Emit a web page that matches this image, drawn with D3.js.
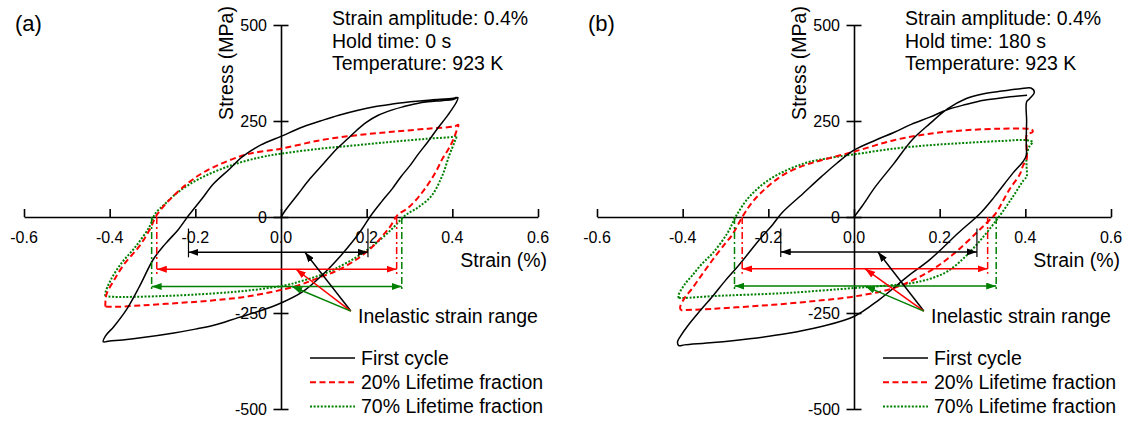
<!DOCTYPE html>
<html>
<head>
<meta charset="utf-8">
<script src="https://cdn.jsdelivr.net/npm/d3@7"></script>
<style>
  body { margin: 0; background: #fff; }
  text { font-family: Arial, "Liberation Sans", sans-serif; fill: #000; }
</style>
</head>
<body>
<svg id="chart" width="1135" height="426"></svg>
<script>
// ---- data (strain %, stress MPa) ----
const xTicks = [-0.6, -0.4, -0.2, 0, 0.2, 0.4, 0.6];
const yTicks = [500, 250, 0, -250, -500];
const seriesNames = ["First cycle", "20% Lifetime fraction", "70% Lifetime fraction"];
const panelLabels = ["(a)", "(b)"];
const holdTimes = ["0 s", "180 s"];

// panel (a): hold time 0 s
const firstCycleA = [[0,0],[0.01,17],[0.04,60],[0.068,100],[0.1,140],[0.127,174],[0.155,203],[0.177,226],[0.2,247],[0.227,265],[0.26,279],[0.285,287],[0.315,295],[0.343,300],[0.375,303],[0.402,306],[0.413,311],
  [0.41,300],[0.39,266],[0.365,230],[0.343,196],[0.32,163],[0.302,135],[0.28,105],[0.26,74],[0.235,40],[0.21,4],[0.19,-30],[0.17,-60],[0.14,-100],[0.1,-147],[0.05,-195],[0,-224],[-0.05,-245],[-0.1,-262],[-0.157,-282],[-0.2,-292],[-0.25,-302],[-0.323,-314],[-0.37,-320],[-0.4,-323],[-0.415,-325],
  [-0.41,-310],[-0.39,-285],[-0.36,-240],[-0.33,-180],[-0.298,-110],[-0.27,-70],[-0.24,-33],[-0.215,5],[-0.185,47],[-0.157,87],[-0.12,125],[-0.09,157],[-0.048,187],[0,210],[0.052,235],[0.1,253],[0.135,265],[0.18,278],[0.218,287],[0.26,294],[0.302,300],[0.35,305],[0.402,309],[0.41,312]];
const frac20A = [[-0.41,-233],[-0.41,-222],[-0.407,-200],[-0.39,-165],[-0.365,-121],[-0.332,-78],[-0.307,-34],[-0.29,5],[-0.26,45],[-0.223,83],[-0.19,110],[-0.157,130],[-0.115,150],[-0.073,165],[0,178],[0.093,200],[0.177,213],[0.26,222],[0.343,230],[0.405,236],[0.414,240],
  [0.41,225],[0.4,196],[0.39,175],[0.377,152],[0.365,125],[0.352,100],[0.335,72],[0.318,48],[0.295,22],[0.272,5],[0.255,-25],[0.24,-45],[0.218,-73],[0.177,-110],[0.13,-140],[0.093,-156],[0.035,-180],[-0.073,-206],[-0.157,-217],[-0.24,-224],[-0.323,-230],[-0.39,-234],[-0.41,-233]];
const frac70A = [[-0.41,-206],[-0.41,-198],[-0.398,-165],[-0.373,-121],[-0.34,-78],[-0.307,-25],[-0.294,8],[-0.27,35],[-0.24,65],[-0.19,100],[-0.115,135],[-0.05,155],[0,165],[0.093,178],[0.177,187],[0.26,196],[0.343,204],[0.402,209],[0.41,212],
  [0.405,195],[0.393,161],[0.377,109],[0.352,56],[0.32,25],[0.29,4],[0.26,-30],[0.22,-70],[0.177,-104],[0.13,-133],[0.093,-151],[0.05,-166],[0.01,-178],[-0.073,-191],[-0.157,-199],[-0.28,-206],[-0.39,-208],[-0.41,-206]];

// panel (b): hold time 180 s
const firstCycleB = [[0,0],[0.02,30],[0.05,79],[0.093,139],[0.135,200],[0.177,243],[0.219,282],[0.261,308],[0.303,321],[0.345,328],[0.388,334],[0.413,336],[0.421,325],[0.41,308],[0.403,300],[0.403,250],[0.402,200],[0.402,160],
  [0.395,145],[0.37,113],[0.328,53],[0.295,10],[0.244,-41],[0.177,-111],[0.126,-154],[0.059,-215],[0,-259],[-0.076,-285],[-0.16,-304],[-0.244,-317],[-0.329,-327],[-0.396,-333],[-0.409,-335],
  [-0.412,-325],[-0.405,-310],[-0.388,-283],[-0.36,-245],[-0.329,-205],[-0.3,-165],[-0.27,-127],[-0.22,-58],[-0.19,-20],[-0.168,11],[-0.12,60],[-0.076,105],[-0.04,140],[0,174],[0.05,200],[0.093,220],[0.135,242],[0.177,260],[0.219,280],[0.261,293],[0.303,304],[0.35,311],[0.404,317]];
const frac20B = [[-0.404,-243],[-0.406,-235],[-0.395,-210],[-0.379,-188],[-0.355,-150],[-0.329,-110],[-0.3,-68],[-0.286,-49],[-0.258,5],[-0.24,35],[-0.219,61],[-0.19,90],[-0.16,113],[-0.12,133],[-0.076,148],[0,170],[0.093,200],[0.177,217],[0.261,226],[0.345,230],[0.404,230],[0.415,228],[0.417,221],[0.404,215],[0.403,180],[0.403,150],
  [0.395,135],[0.388,113],[0.362,70],[0.33,8],[0.31,-15],[0.286,-41],[0.236,-93],[0.177,-141],[0.093,-185],[0,-207],[-0.076,-217],[-0.16,-226],[-0.244,-233],[-0.329,-239],[-0.404,-243]];
const frac70B = [[-0.409,-211],[-0.41,-205],[-0.395,-175],[-0.379,-154],[-0.355,-122],[-0.329,-93],[-0.295,-41],[-0.274,5],[-0.244,53],[-0.194,100],[-0.118,139],[-0.05,155],[0,163],[0.093,178],[0.177,187],[0.261,193],[0.345,198],[0.404,200],[0.417,195],[0.41,185],[0.403,160],[0.403,130],[0.403,105],
  [0.396,96],[0.371,53],[0.34,3],[0.303,-50],[0.261,-102],[0.219,-141],[0.18,-160],[0.135,-172],[0.06,-180],[0,-185],[-0.16,-198],[-0.329,-206],[-0.396,-211],[-0.409,-211]];

// inelastic strain range markers: [left strain, right strain], stress level of arrow
const rangeEndsA = [[-0.216, 0.203], [-0.29, 0.27], [-0.302, 0.282]];
const rangeLevelsA = [-92, -136, -181];
const pointerToA = [[0.056, -92], [0.035, -136], [0.026, -181]];
const rangeEndsB = [[-0.171, 0.287], [-0.261, 0.312], [-0.279, 0.332]];
const rangeLevelsB = [-91, -135, -180];
const pointerToB = [[0.056, -91], [0.026, -135], [0.026, -180]];
const pointerFrom = [0.163, -245];

// ---- drawing ----
const colors = ["#000000", "#ff0000", "#008000"];
const dashes = [null, "6,3.5", "2,1.6"];
const widths = [1.5, 2, 2];

const svg = d3.select("#chart");

let defs = svg.append("defs");
colors.forEach((c, i) => {
  defs.append("marker")
    .attr("id", "arr" + i)
    .attr("markerUnits", "userSpaceOnUse")
    .attr("markerWidth", 10).attr("markerHeight", 7)
    .attr("refX", 10).attr("refY", 3.5)
    .attr("orient", "auto-start-reverse")
    .append("path").attr("d", "M0,0 L10,3.5 L0,7 Z").attr("fill", c);
});

let panels = [
  { left: 24, right: 538, loops: [firstCycleA, frac20A, frac70A], ends: rangeEndsA, levels: rangeLevelsA, to: pointerToA },
  { left: 597, right: 1111, loops: [firstCycleB, frac20B, frac70B], ends: rangeEndsB, levels: rangeLevelsB, to: pointerToB }
];

// plain hyphen for negatives, like the original figure
let fmt = d => d3.format(".1f")(d).replace("\u2212", "-");

panels.forEach((p, pi) => {
  let x = d3.scaleLinear().domain([-0.6, 0.6]).range([p.left, p.right]);
  let y = d3.scaleLinear().domain([-500, 500]).range([409, 25]);
  let x0 = x(0), y0 = y(0);
  let g = svg.append("g");

  // axes crossing at the origin
  let xAxis = d3.axisTop(x).tickValues(xTicks).tickSizeInner(8).tickSizeOuter(0).tickFormat("");
  let gx = g.append("g").attr("transform", "translate(0," + y0 + ")").call(xAxis);
  gx.selectAll("path, line").attr("stroke", "#000").attr("stroke-width", 1.6);

  let yAxis = d3.axisLeft(y).tickValues(yTicks).tickSizeInner(0).tickSizeOuter(0).tickFormat("");
  let gy = g.append("g").attr("transform", "translate(" + x0 + ",0)").call(yAxis);
  gy.select("path").attr("stroke", "#000").attr("stroke-width", 1.6);
  gy.selectAll(".tick line").attr("x1", -7.5).attr("x2", 7.5).attr("stroke", "#000").attr("stroke-width", 1.6);

  g.selectAll(".xlab").data(xTicks).join("text")
    .attr("x", d => x(d)).attr("y", y0 + 26)
    .attr("text-anchor", "middle").style("font-size", "16px")
    .text(fmt);
  g.selectAll(".ylab").data(yTicks).join("text")
    .attr("x", x0 - 14).attr("y", d => y(d)).attr("dy", "0.35em")
    .attr("text-anchor", "end").style("font-size", "16px")
    .text(d => d);

  // axis titles
  g.append("text").attr("x", p.right + 9).attr("y", y0 + 50)
    .attr("text-anchor", "end").style("font-size", "19.5px").text("Strain (%)");
  g.append("text")
    .attr("transform", "translate(" + (x0 - 48.5) + ",63) rotate(-90)")
    .attr("text-anchor", "middle").style("font-size", "19.5px").text("Stress (MPa)");

  // panel letter and test conditions
  g.append("text").attr("x", p.left - 9).attr("y", 31).style("font-size", "22px").text(panelLabels[pi]);
  let info = ["Strain amplitude: 0.4%", "Hold time: " + holdTimes[pi], "Temperature: 923 K"];
  g.selectAll(".info").data(info).join("text")
    .attr("x", x0 + 51).attr("y", (d, i) => 25 + i * 22.5)
    .style("font-size", "19.5px").text(d => d);

  // hysteresis loops
  let line = d3.line().x(d => x(d[0])).y(d => y(d[1])).curve(d3.curveCatmullRom.alpha(0.5));
  [2, 1, 0].forEach(i => {
    g.append("path").datum(p.loops[i])
      .attr("d", line)
      .attr("fill", "none")
      .attr("stroke", colors[i])
      .attr("stroke-width", widths[i])
      .attr("stroke-dasharray", dashes[i]);
  });

  // inelastic strain range dimension lines
  p.ends.forEach((e, i) => {
    let ly = y(p.levels[i]);
    e.forEach(v => {
      g.append("line")
        .attr("x1", x(v)).attr("x2", x(v))
        .attr("y1", i === 0 ? y(-30) : y0).attr("y2", ly + 5)
        .attr("stroke", colors[i]).attr("stroke-width", i === 0 ? 1.2 : 1.5)
        .attr("stroke-dasharray", i === 0 ? null : "7,3,2,3");
    });
    g.append("line")
      .attr("x1", x(e[0])).attr("x2", x(e[1])).attr("y1", ly).attr("y2", ly)
      .attr("stroke", colors[i]).attr("stroke-width", 1.5)
      .attr("marker-start", "url(#arr" + i + ")")
      .attr("marker-end", "url(#arr" + i + ")");
  });

  // pointers from the label
  p.to.forEach((t, i) => {
    g.append("line")
      .attr("x1", x(pointerFrom[0])).attr("y1", y(pointerFrom[1]))
      .attr("x2", x(t[0])).attr("y2", y(t[1]))
      .attr("stroke", colors[i]).attr("stroke-width", 1.5)
      .attr("marker-end", "url(#arr" + i + ")");
  });
  g.append("text").attr("x", x0 + 77).attr("y", 323)
    .style("font-size", "19.5px").text("Inelastic strain range");

  // legend
  seriesNames.forEach((s, i) => {
    let ry = 358 + i * 24.3;
    g.append("line")
      .attr("x1", x0 + 29).attr("x2", x0 + 74).attr("y1", ry).attr("y2", ry)
      .attr("stroke", colors[i]).attr("stroke-width", widths[i])
      .attr("stroke-dasharray", dashes[i]);
    g.append("text").attr("x", x0 + 80).attr("y", ry).attr("dy", "0.35em")
      .style("font-size", "19.5px").text(s);
  });
});
</script>
</body>
</html>
